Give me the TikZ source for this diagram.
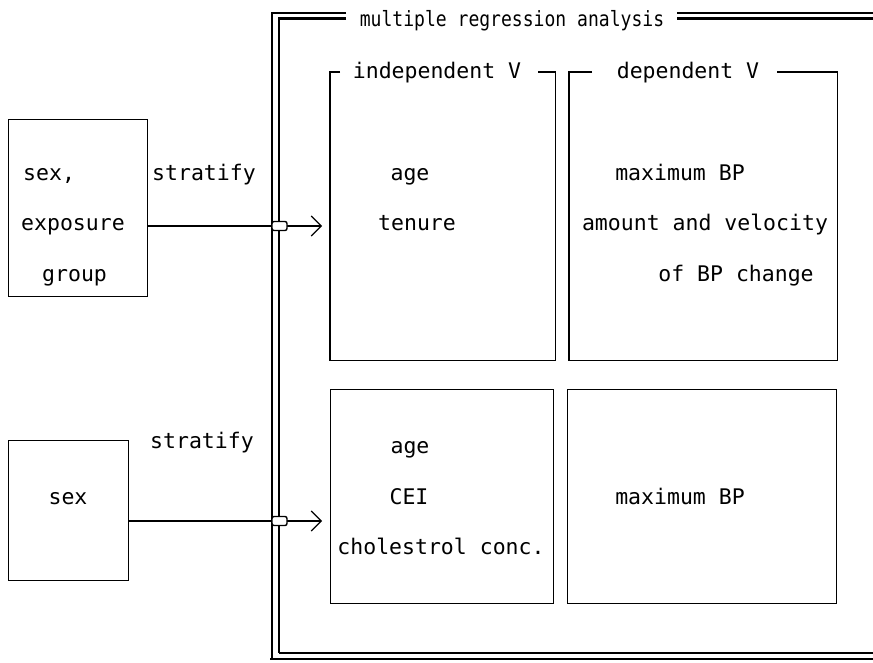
\documentclass[tikz,border=0pt]{standalone}
\usepackage{fontspec}
\setmonofont{DejaVu Sans Mono}
\newfontfamily\ttlfont[FakeStretch=0.86]{DejaVu Sans Mono}
\usetikzlibrary{arrows.meta}
\tikzset{
  boxnode/.style={draw=none, inner sep=0pt, anchor=north west},
  edge/.style={line width=1.2pt},
  txt/.style={font=\ttfamily\fontsize{21.5}{25}\selectfont, inner sep=0pt, anchor=base},
  ttl/.style={font=\ttlfont\fontsize{21}{25}\selectfont, inner sep=0pt, anchor=base},
  arr/.style={line width=1.1pt, -{Straight Barb[length=10pt,width=20pt,line width=1.1pt]}},
  bridge/.style={draw, fill=white, line width=1.4pt, rounded corners=2pt, minimum width=15pt, minimum height=9pt, inner sep=0pt},
}
\begin{document}
\begin{tikzpicture}[x=1pt,y=-1pt]
\useasboundingbox (0,0) rectangle (873,663);
% left boxes
\node[boxnode, draw, line width=1.2pt, minimum width=139pt, minimum height=177pt] (b1) at (8,119) {};
\node[boxnode, draw, line width=1.2pt, minimum width=120pt, minimum height=140pt] (b2) at (8,440) {};
\node[txt, anchor=base west] (t1) at (23,181) {sex,};
\node[txt, anchor=base west] (t2) at (21,231) {exposure};
\node[txt, anchor=base west] (t3) at (42,281) {group};
\node[txt] (t4) at (68,504) {sex};
\node[txt, anchor=base west] (st1) at (152,181) {stratify};
\node[txt, anchor=base west] (st2) at (150,448) {stratify};
% inner boxes
\node[boxnode, minimum width=225pt, minimum height=288pt] (ind) at (330,72) {};
\node[boxnode, minimum width=268pt, minimum height=288pt] (dep) at (569,72) {};
\node[boxnode, draw, line width=1.2pt, minimum width=223pt, minimum height=214pt] (lind) at (330,389) {};
\node[boxnode, draw, line width=1.2pt, minimum width=269pt, minimum height=214pt] (ldep) at (567,389) {};
\node[txt] (indt) at (437,79) {independent V};
\node[txt] (dept) at (688,79) {dependent V};
\draw[edge] ([xshift=10pt]ind.north west) -- (ind.north west) -- (ind.south west) -- (ind.south east) -- (ind.north east) -- ([xshift=-17pt]ind.north east);
\draw[edge] ([xshift=23pt]dep.north west) -- (dep.north west) -- (dep.south west) -- (dep.south east) -- (dep.north east) -- ([xshift=-60pt]dep.north east);
% texts in boxes
\node[txt] (a1) at (410,181) {age};
\node[txt] (a2) at (417,231) {tenure};
\node[txt] (d1) at (680,181) {maximum BP};
\node[txt] (d2) at (705,231) {amount and velocity};
\node[txt] (d3) at (736,281) {of BP change};
\node[txt] (a3) at (410,453) {age};
\node[txt] (a4) at (409,504) {CEI};
\node[txt] (a5) at (441,554) {cholestrol conc.};
\node[txt] (d4) at (680,504) {maximum BP};
% frame
\node[ttl] (title) at (512,27) {multiple regression analysis};
\draw[line width=1.2pt] (346,13) -- (272,13) -- (272,659);
\draw[line width=1.2pt] (677,13) -- (873,13);
\draw[line width=2.6pt] (270,659) -- (873,659);
\draw[line width=2.6pt] (346,18.5) -- (279,18.5) -- (279,653);
\draw[line width=1.2pt] (279,653) -- (873,653);
\draw[line width=2.6pt] (677,18.5) -- (873,18.5);
% arrows
\draw[arr] (b1.east |- 0,226) -- ([xshift=-8pt]ind.west |- 0,226);
\draw[arr] (b2.east |- 0,521) -- ([xshift=-8pt]lind.west |- 0,521);
\node[bridge] (br1) at (279.5,226) {};
\node[bridge] (br2) at (279.5,521) {};
\end{tikzpicture}
\end{document}
